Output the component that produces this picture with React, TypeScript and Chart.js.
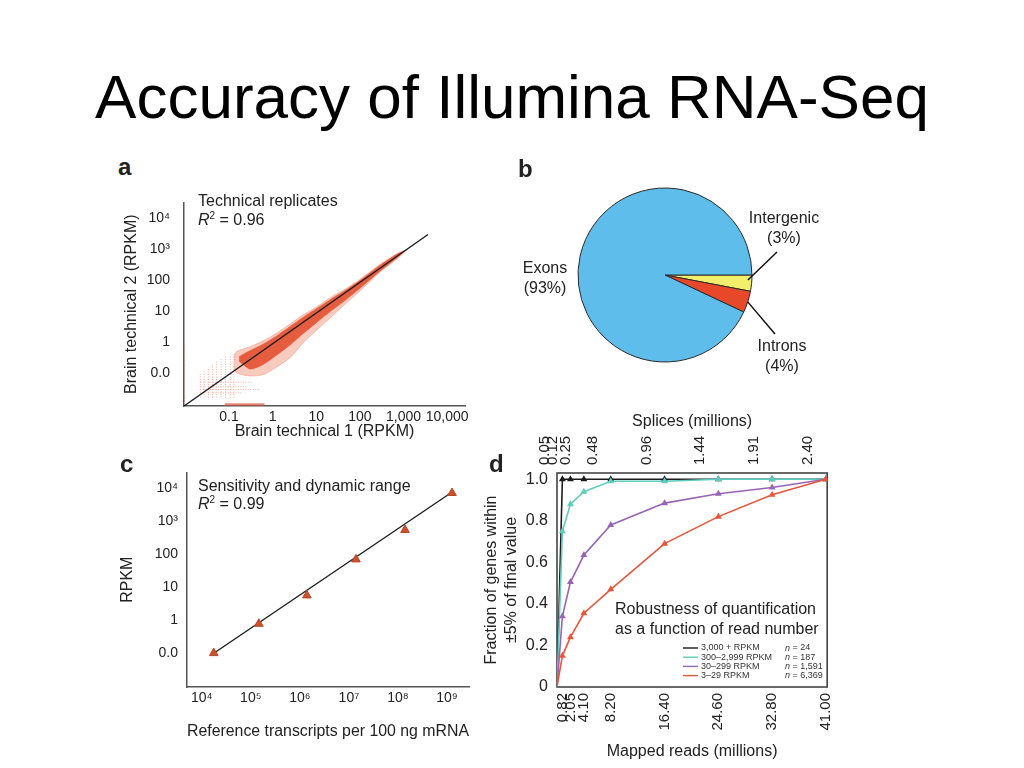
import React, { useEffect, useRef } from "react";
import { Chart, registerables } from "chart.js";

Chart.register(...registerables);

const FONT = "'Liberation Sans', Arial, Helvetica, sans-serif";
const INK = "#222222";
const AXIS_COLOR = "#555555";

// ---------------- Panel a : technical replicates ----------------
const aTickValues = [0.1, 1, 10, 100, 1000, 10000];
const aXTickLabels = ["0.1", "1", "10", "100", "1,000", "10,000"];
const aYTickLabels = ["0.0", "1", "10", "100", "10³", "10⁴"];
const aFitX = [0.0093, 3640];
const aFitY = [0.0091, 2950];
// sparse outer envelope of the point cloud
const aCloudX = [0.127, 0.151, 0.307, 0.62, 1.26, 2.55, 5.16, 10.4, 21.2, 42.9, 100, 300, 710, 1200];
const aCloudUpper = [0.33, 0.515, 0.73, 1.15, 2.02, 4.0, 7.9, 14.1, 27.9, 49, 106, 335, 720, 950];
const aCloudLower = [0.17, 0.105, 0.084, 0.093, 0.166, 0.33, 1.02, 2.55, 6.3, 15.7, 45, 190, 480, 950];
// dense core of the point cloud
const aCoreX = [0.17, 0.307, 0.62, 1.26, 2.55, 5.16, 10.4, 21.2, 42.9, 100, 300, 710, 1100];
const aCoreUpper = [0.35, 0.55, 0.9, 1.65, 3.3, 6.6, 12.5, 24, 44, 98, 310, 680, 900];
const aCoreLower = [0.25, 0.14, 0.2, 0.4, 0.85, 2.0, 4.5, 10, 21, 55, 205, 530, 900];
// discrete low-count streaks
const aColX = [0.022, 0.027, 0.034, 0.042, 0.052, 0.066, 0.083, 0.107, 0.13];
const aColTop = [0.1, 0.12, 0.16, 0.2, 0.26, 0.3, 0.35, 0.41, 0.45];
const aColBottom = [0.017, 0.017, 0.017, 0.017, 0.017, 0.017, 0.017, 0.017, 0.017];
const aRowY = [0.053, 0.038, 0.031, 0.024];
const aRowLeft = [0.022, 0.022, 0.022, 0.022];
const aRowRight = [0.35, 0.25, 0.5, 0.2];
const aEdgeX = [0.0096];
const aEdgeBottom = [0.013];
const aEdgeTop = [0.8];
const aFloorY = [0.0102];
const aFloorLeft = [0.08];
const aFloorRight = [0.65];

// ---------------- Panel b : pie ----------------
const bLabels = ["Intergenic", "Introns", "Exons"];
const bValues = [3, 4, 93];
const bColors = ["#F3EE6C", "#E8482A", "#5EBDEA"];

// ---------------- Panel c : sensitivity ----------------
const cTickXValues = [1e4, 1e5, 1e6, 1e7, 1e8, 1e9];
const cXTickLabels = ["10⁴", "10⁵", "10⁶", "10⁷", "10⁸", "10⁹"];
const cTickYValues = [0.1, 1, 10, 100, 1000, 10000];
const cYTickLabels = ["0.0", "1", "10", "100", "10³", "10⁴"];
const cPointX = [1.76e4, 1.46e5, 1.39e6, 1.39e7, 1.39e8, 1.26e9];
const cPointY = [0.098, 0.76, 5.5, 68, 527, 7020];
const cFitX = [1.76e4, 1.25e9];
const cFitY = [0.097, 7360];

// ---------------- Panel d : robustness ----------------
const dReads = [0, 0.82, 2.05, 4.1, 8.2, 16.4, 24.6, 32.8, 41.0];
const dReadTicks = [0.82, 2.05, 4.1, 8.2, 16.4, 24.6, 32.8, 41.0];
const dReadLabels = ["0.82", "2.05", "4.10", "8.20", "16.40", "24.60", "32.80", "41.00"];
const dSpliceLabels = ["0.05", "0.12", "0.25", "0.48", "0.96", "1.44", "1.91", "2.40"];
const dYTicks = [0, 0.2, 0.4, 0.6, 0.8, 1.0];
const dYLabels = ["0", "0.2", "0.4", "0.6", "0.8", "1.0"];
const dHigh = [0, 1.0, 1.0, 1.0, 1.0, 1.0, 1.0, 1.0, 1.0];
const dMidHigh = [0, 0.75, 0.88, 0.94, 0.99, 0.99, 1.0, 1.0, 1.0];
const dMid = [0, 0.34, 0.505, 0.635, 0.78, 0.885, 0.93, 0.96, 1.0];
const dLow = [0, 0.15, 0.24, 0.355, 0.47, 0.69, 0.82, 0.925, 1.0];
const dSeriesLabels = ["3,000 + RPKM", "300–2,999 RPKM", "30–299 RPKM", "3–29 RPKM"];
const dSeriesN = ["24", "187", "1,591", "6,369"];
const dSeriesColors = ["#1c1c1c", "#5ECDBD", "#9A64B5", "#E8573B"];

// ---------------- helpers ----------------
function pts(xs: number[], ys: number[]) {
  return xs.map((x, i) => ({ x, y: ys[i] }));
}
type Seg = [number, number, number, number];
function segData(segs: Seg[]) {
  const out: any[] = [];
  segs.forEach(([x1, y1, x2, y2]) => {
    out.push({ x: x1, y: y1 }, { x: x2, y: y2 }, { x: x2, y: null });
  });
  return out;
}
function fixedTicks(vals: number[], labels: string[]) {
  return {
    afterBuildTicks: (s: any) => {
      s.ticks = vals.map((v) => ({ value: v }));
    },
    callback: (_v: any, i: number) => labels[i],
  };
}

const tickFont = { family: FONT, size: 14 };
const titleFont = { family: FONT, size: 16 };

function logAxis(opts: {
  min: number;
  max: number;
  vals: number[];
  labels: string[];
  size: number;
  horizontal: boolean;
  title: string;
  titlePad: number;
  tickPad: number;
}) {
  const f = fixedTicks(opts.vals, opts.labels);
  return {
    type: "logarithmic",
    position: opts.horizontal ? "bottom" : "left",
    min: opts.min,
    max: opts.max,
    afterBuildTicks: f.afterBuildTicks,
    afterFit: (s: any) => {
      if (opts.horizontal) s.height = opts.size;
      else s.width = opts.size;
    },
    grid: { display: false, drawTicks: false, tickLength: 0 },
    border: { display: true, color: AXIS_COLOR, width: 1.5 },
    ticks: {
      callback: f.callback,
      font: tickFont,
      color: INK,
      padding: opts.tickPad,
      autoSkip: false,
      maxRotation: 0,
      minRotation: 0,
    },
    title: {
      display: true,
      text: opts.title,
      font: titleFont,
      color: INK,
      padding: opts.horizontal ? { top: 0, bottom: opts.titlePad } : { top: opts.titlePad, bottom: 0 },
    },
  };
}

const baseOptions = {
  responsive: false,
  animation: false,
  events: [],
  plugins: { legend: { display: false }, tooltip: { enabled: false } },
  elements: { point: { radius: 0 } },
};

// ---------------- chart configs ----------------
function configA(): any {
  const streaks: Seg[] = [
    ...aColX.map((x, i) => [x, aColBottom[i], x, aColTop[i]] as Seg),
    ...aRowY.map((y, i) => [aRowLeft[i], y, aRowRight[i], y] as Seg),
    ...aEdgeX.map((x, i) => [x, aEdgeBottom[i], x, aEdgeTop[i]] as Seg),
  ];
  const floor: Seg[] = aFloorY.map((y, i) => [aFloorLeft[i], y, aFloorRight[i], y] as Seg);
  const outer = "rgba(240,128,100,0.42)";
  const core = "rgba(226,74,40,0.85)";
  return {
    type: "line",
    data: {
      datasets: [
        { data: pts(aCloudX, aCloudUpper), fill: "+1", backgroundColor: outer, borderColor: outer, borderWidth: 1, tension: 0.25, order: 5 },
        { data: pts(aCloudX, aCloudLower), fill: false, borderColor: outer, borderWidth: 1, tension: 0.25, order: 5 },
        { data: pts(aCoreX, aCoreUpper), fill: "+1", backgroundColor: core, borderColor: "rgba(226,74,40,0.5)", borderWidth: 1, tension: 0.25, order: 4 },
        { data: pts(aCoreX, aCoreLower), fill: false, borderColor: "rgba(226,74,40,0.5)", borderWidth: 1, tension: 0.25, order: 4 },
        { data: segData(streaks), borderColor: "rgba(232,112,92,0.55)", borderWidth: 1, borderDash: [1, 1.5], spanGaps: false, order: 6 },
        { data: segData(floor), borderColor: "rgba(222,84,58,0.7)", borderWidth: 2.5, spanGaps: false, order: 6 },
        { data: pts(aFitX, aFitY), borderColor: "#1b1b1b", borderWidth: 1.4, order: 0 },
      ],
    },
    options: {
      ...baseOptions,
      layout: { padding: { left: 0, right: 15, top: 5, bottom: 0 } },
      scales: {
        x: logAxis({ min: 0.0093, max: 25700, vals: aTickValues, labels: aXTickLabels, size: 39, horizontal: true, title: "Brain technical 1 (RPKM)", titlePad: 4.2, tickPad: 3 }),
        y: logAxis({ min: 0.0091, max: 31600, vals: aTickValues, labels: aYTickLabels, size: 74, horizontal: false, title: "Brain technical 2 (RPKM)", titlePad: 12.4, tickPad: 14 }),
      },
    },
  };
}

const pieLeaders = [
  { index: 0, startR: 0.955, angleShift: -0.035, dx: 112, dy: -23 },
  { index: 1, startR: 1.0, angleShift: 0.0, dx: 110, dy: 59 },
];
const pieLeaderPlugin = {
  id: "pieLeaders",
  afterDatasetsDraw(chart: any) {
    const meta = chart.getDatasetMeta(0);
    const ctx = chart.ctx;
    ctx.save();
    ctx.strokeStyle = "#111";
    ctx.lineWidth = 1.5;
    pieLeaders.forEach((l) => {
      const arc = meta.data[l.index];
      const p = arc.getProps(["x", "y", "startAngle", "endAngle", "outerRadius"], true);
      const mid = (p.startAngle + p.endAngle) / 2 + l.angleShift;
      const sx = p.x + Math.cos(mid) * p.outerRadius * l.startR;
      const sy = p.y + Math.sin(mid) * p.outerRadius * l.startR;
      ctx.beginPath();
      ctx.moveTo(sx, sy);
      ctx.lineTo(p.x + l.dx, p.y + l.dy);
      ctx.stroke();
    });
    ctx.restore();
  },
};

function configB(): any {
  return {
    type: "pie",
    data: {
      labels: bLabels,
      datasets: [{ data: bValues, backgroundColor: bColors, borderColor: "#2b2b2b", borderWidth: 1 }],
    },
    options: {
      ...baseOptions,
      rotation: 90,
      radius: 87,
      layout: { padding: { left: 77, right: 97, top: 7, bottom: 17 } },
    },
    plugins: [pieLeaderPlugin],
  };
}

function configC(): any {
  return {
    type: "line",
    data: {
      datasets: [
        { data: pts(cPointX, cPointY), showLine: false, pointStyle: "triangle", pointRadius: 5, backgroundColor: "#C9512E", borderColor: "#B84526", borderWidth: 1, order: 0 },
        { data: pts(cFitX, cFitY), borderColor: "#1e1e1e", borderWidth: 1.4, pointRadius: 0, order: 1 },
      ],
    },
    options: {
      ...baseOptions,
      layout: { padding: { left: 0, right: 11, top: 12, bottom: 0 } },
      scales: {
        x: logAxis({ min: 5012, max: 2.8e9, vals: cTickXValues, labels: cXTickLabels, size: 63, horizontal: true, title: "Reference transcripts per 100 ng mRNA", titlePad: 9, tickPad: 3 }),
        y: logAxis({ min: 0.0092, max: 29500, vals: cTickYValues, labels: cYTickLabels, size: 77, horizontal: false, title: "RPKM", titlePad: 8.4, tickPad: 9 }),
      },
    },
  };
}

const framePlugin = {
  id: "frame",
  beforeDatasetsDraw(chart: any) {
    const { ctx, chartArea: a } = chart;
    ctx.save();
    ctx.strokeStyle = "#444";
    ctx.lineWidth = 1.6;
    ctx.strokeRect(a.left, a.top, a.right - a.left, a.bottom - a.top);
    ctx.restore();
  },
};

const dLegendPlugin = {
  id: "dLegend",
  afterDatasetsDraw(chart: any) {
    const { ctx, chartArea } = chart;
    const x0 = chartArea.left + 126;
    const y0 = chartArea.top + 175;
    const dy = 9.2;
    ctx.save();
    ctx.textBaseline = "middle";
    ctx.textAlign = "left";
    dSeriesLabels.forEach((lab, i) => {
      const y = y0 + i * dy;
      ctx.strokeStyle = dSeriesColors[i];
      ctx.lineWidth = 1.4;
      ctx.beginPath();
      ctx.moveTo(x0, y);
      ctx.lineTo(x0 + 15, y);
      ctx.stroke();
      ctx.fillStyle = "#333";
      ctx.font = `9px ${FONT}`;
      ctx.fillText(lab, x0 + 18, y);
      const nx = x0 + 102;
      ctx.font = `italic 9px ${FONT}`;
      ctx.fillText("n", nx, y);
      const w = ctx.measureText("n").width;
      ctx.font = `9px ${FONT}`;
      ctx.fillText(" = " + dSeriesN[i], nx + w, y);
    });
    ctx.restore();
  },
};

function configD(): any {
  const series = [dHigh, dMidHigh, dMid, dLow];
  const orders = [4, 3, 2, 1];
  const bottom = fixedTicks(dReadTicks, dReadLabels);
  const top = fixedTicks(dReadTicks, dSpliceLabels);
  const yt = fixedTicks(dYTicks, dYLabels);
  const rotTicks = (cb: any, pad: number) => ({
    callback: cb,
    font: { family: FONT, size: 15 },
    color: INK,
    padding: pad,
    autoSkip: false,
    minRotation: 90,
    maxRotation: 90,
  });
  return {
    type: "line",
    data: {
      datasets: series.map((s, i) => ({
        label: dSeriesLabels[i],
        data: pts(dReads, s),
        borderColor: dSeriesColors[i],
        backgroundColor: dSeriesColors[i],
        borderWidth: 1.6,
        pointStyle: "triangle",
        pointRadius: (c: any) => (c.dataIndex === 0 ? 0 : 2.4),
        order: orders[i],
      })),
    },
    options: {
      ...baseOptions,
      layout: { padding: { left: 0, right: 17, top: 0, bottom: 0 } },
      scales: {
        x: {
          type: "linear",
          position: "bottom",
          min: 0,
          max: 41.2,
          afterBuildTicks: bottom.afterBuildTicks,
          afterFit: (s: any) => { s.height = 81; },
          grid: { display: false, drawTicks: false, tickLength: 0 },
          border: { display: false },
          ticks: rotTicks(bottom.callback, 6),
          title: { display: true, text: "Mapped reads (millions)", font: titleFont, color: INK, padding: { top: 0, bottom: 6.4 } },
        },
        x2: {
          type: "linear",
          position: "top",
          min: 0,
          max: 41.2,
          afterBuildTicks: top.afterBuildTicks,
          afterFit: (s: any) => { s.height = 73; },
          grid: { display: false, drawTicks: false, tickLength: 0 },
          border: { display: false },
          ticks: rotTicks(top.callback, 8),
          title: { display: true, text: "Splices (millions)", font: titleFont, color: INK, padding: { top: 12.4, bottom: 0 } },
        },
        y: {
          type: "linear",
          position: "left",
          min: 0,
          max: 1.03,
          afterBuildTicks: yt.afterBuildTicks,
          afterFit: (s: any) => { s.width = 77; },
          grid: { display: false, drawTicks: false, tickLength: 0 },
          border: { display: false },
          ticks: { callback: yt.callback, font: { family: FONT, size: 16 }, color: INK, padding: 9, autoSkip: false },
          title: {
            display: true,
            text: ["Fraction of genes within", "±5% of final value"],
            font: { family: FONT, size: 16, lineHeight: 1.25 },
            color: INK,
            padding: { top: 2, bottom: 0 },
          },
        },
      },
    },
    plugins: [framePlugin, dLegendPlugin],
  };
}

// ---------------- components ----------------
function ChartBox(props: { left: number; top: number; width: number; height: number; make: () => any }) {
  const ref = useRef<HTMLCanvasElement>(null);
  useEffect(() => {
    const chart = new Chart(ref.current as HTMLCanvasElement, props.make());
    return () => chart.destroy();
  }, []);
  const { left, top, width, height } = props;
  return (
    <div style={{ position: "absolute", left, top, width, height }}>
      <canvas ref={ref} width={width} height={height} style={{ width, height, display: "block" }} />
    </div>
  );
}

function Txt(props: { left: number; baseline: number; size: number; bold?: boolean; children: any }) {
  const { left, baseline, size, bold, children } = props;
  return (
    <div
      style={{
        position: "absolute",
        left,
        top: baseline - 0.8465 * size,
        fontSize: size,
        lineHeight: `${size}px`,
        fontWeight: bold ? "bold" : "normal",
        whiteSpace: "nowrap",
      }}
    >
      {children}
    </div>
  );
}

function CenterLabel(props: { cx: number; cy: number; lines: string[] }) {
  return (
    <div
      style={{
        position: "absolute",
        left: props.cx - 70,
        top: props.cy - 10,
        width: 140,
        textAlign: "center",
        fontSize: 16,
        lineHeight: "20px",
        whiteSpace: "nowrap",
      }}
    >
      {props.lines.map((l, i) => (
        <div key={i}>{l}</div>
      ))}
    </div>
  );
}

function R2(props: { value: string }) {
  return (
    <span>
      <span style={{ fontStyle: "italic" }}>R</span>
      <span style={{ fontSize: 10, position: "relative", top: -6 }}>2</span> = {props.value}
    </span>
  );
}

export default function App() {
  return (
    <div
      style={{
        position: "absolute",
        left: 0,
        top: 0,
        width: 1024,
        height: 768,
        background: "#ffffff",
        fontFamily: FONT,
        color: INK,
        overflow: "hidden",
      }}
    >
      <div
        style={{
          position: "absolute",
          left: 0,
          top: 65.5,
          width: 1024,
          textAlign: "center",
          fontSize: 62,
          lineHeight: "62px",
          color: "#000",
          whiteSpace: "nowrap",
        }}
      >
        Accuracy of Illumina RNA-Seq
      </div>

      <ChartBox left={110} top={180} width={370} height={265} make={configA} />
      <ChartBox left={500} top={180} width={350} height={200} make={configB} />
      <ChartBox left={110} top={455} width={370} height={295} make={configC} />
      <ChartBox left={480} top={400} width={370} height={368} make={configD} />

      <Txt left={118} baseline={175} size={24} bold>a</Txt>
      <Txt left={518} baseline={177} size={24} bold>b</Txt>
      <Txt left={120} baseline={472} size={24} bold>c</Txt>
      <Txt left={489} baseline={472} size={24} bold>d</Txt>

      <Txt left={198} baseline={207} size={16}>Technical replicates</Txt>
      <Txt left={198} baseline={226} size={16}><R2 value="0.96" /></Txt>

      <Txt left={198} baseline={491.7} size={16}>Sensitivity and dynamic range</Txt>
      <Txt left={198} baseline={510} size={16}><R2 value="0.99" /></Txt>

      <Txt left={615} baseline={615} size={16}>Robustness of quantification</Txt>
      <Txt left={615} baseline={635} size={16}>as a function of read number</Txt>

      <CenterLabel cx={545} cy={268} lines={["Exons", "(93%)"]} />
      <CenterLabel cx={784} cy={218} lines={["Intergenic", "(3%)"]} />
      <CenterLabel cx={782} cy={346} lines={["Introns", "(4%)"]} />
    </div>
  );
}
